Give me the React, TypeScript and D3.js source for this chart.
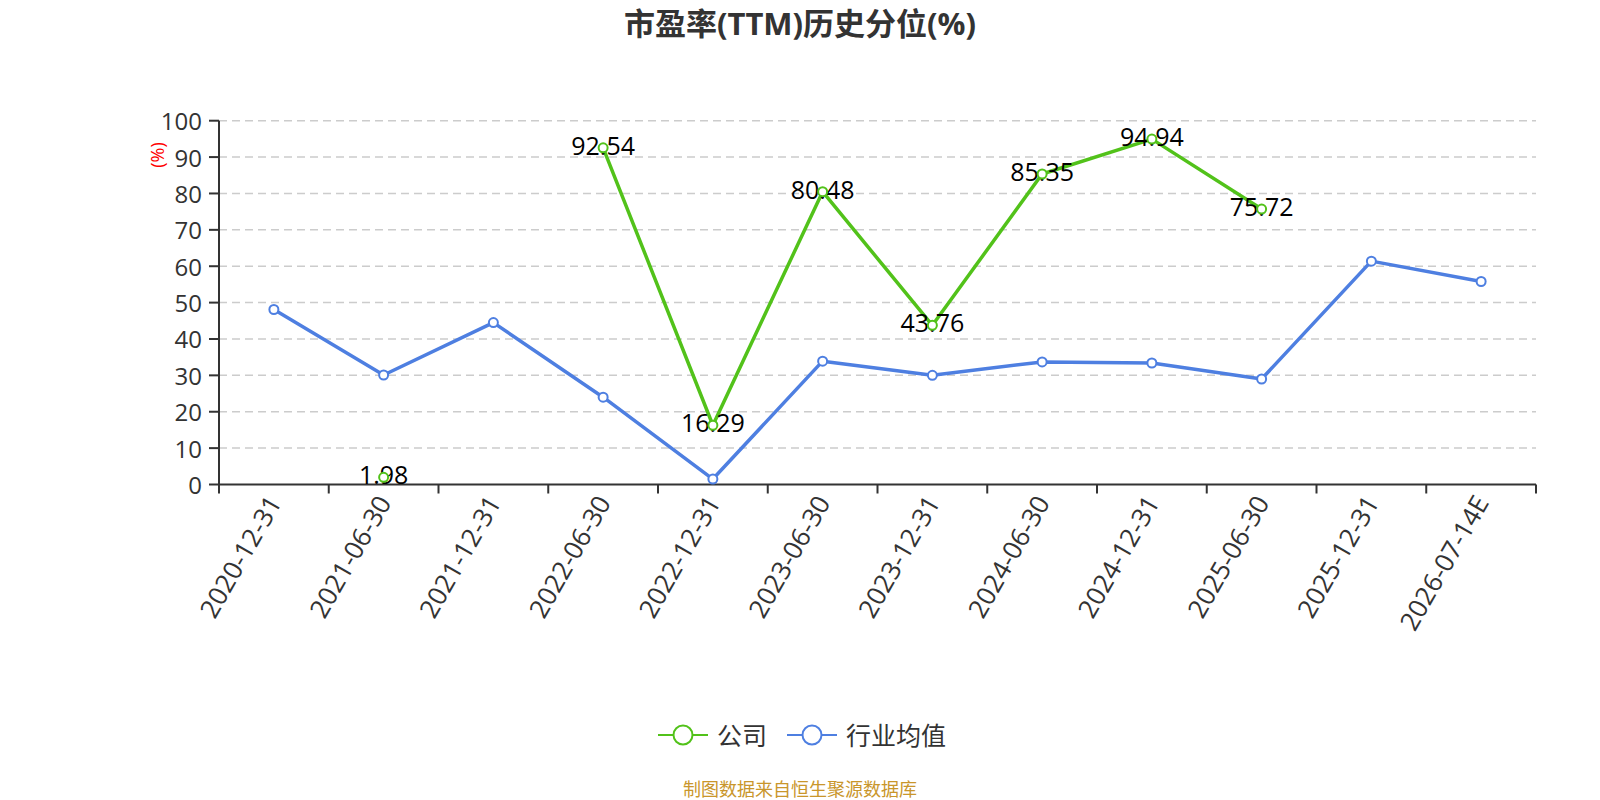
import React from "react";
import * as d3 from "d3";

const categories = [
  "2020-12-31", "2021-06-30", "2021-12-31", "2022-06-30", "2022-12-31", "2023-06-30",
  "2023-12-31", "2024-06-30", "2024-12-31", "2025-06-30", "2025-12-31", "2026-07-14E",
];
const companyValues: (number | null)[] = [null, 1.98, null, 92.54, 16.29, 80.48, 43.76, 85.35, 94.94, 75.72, null, null];
const industryValues: (number | null)[] = [48.1, 30.1, 44.5, 24.0, 1.5, 33.9, 30.0, 33.7, 33.4, 29.0, 61.4, 55.8];
const yTicks = [0, 10, 20, 30, 40, 50, 60, 70, 80, 90, 100];
const seriesNames = ["公司", "行业均值"];
const titleText = "市盈率(TTM)历史分位(%)";
const footerText = "制图数据来自恒生聚源数据库";

const W = 1600;
const H = 800;
const left = 219;
const right = 1536;
const top = 120.7;
const bottom = 484.5;
const GREEN = "#52c21a";
const BLUE = "#4e7fe1";
const FONT = "'Open Sans', 'Noto Sans CJK SC', sans-serif";

export default function App() {
  const x = d3.scaleBand<string>().domain(categories).range([left, right]).padding(0);
  const y = d3.scaleLinear().domain([0, 100]).range([bottom, top]);
  const cx = (c: string) => (x(c) as number) + x.bandwidth() / 2;

  const line = d3
    .line<number | null>()
    .defined((d) => d != null)
    .x((_, i) => cx(categories[i]))
    .y((d) => y(d as number));

  const boundaries = categories.map((c) => x(c) as number).concat([right]);

  const series = [
    { name: seriesNames[0], values: companyValues, color: GREEN },
    { name: seriesNames[1], values: industryValues, color: BLUE },
  ];

  return (
    <div style={{ position: "fixed", left: 0, top: 0 }}>
      <svg width={W} height={H} style={{ display: "block", background: "#fff" }} fontFamily={FONT}>
        <text x={800} y={23} textAnchor="middle" dominantBaseline="central" fontSize={31} fontWeight="bold" fill="#333">
          {titleText}
        </text>

        {/* grid lines */}
        {yTicks.filter((t) => t > 0).map((t) => (
          <line key={"g" + t} x1={left} x2={right} y1={y(t)} y2={y(t)} stroke="#ccc" strokeWidth={1.5} strokeDasharray="8,5" />
        ))}

        {/* y axis */}
        <line x1={left} x2={left} y1={top} y2={bottom} stroke="#333" strokeWidth={2} />
        {yTicks.map((t) => (
          <g key={"y" + t}>
            <line x1={left - 10} x2={left} y1={y(t)} y2={y(t)} stroke="#333" strokeWidth={2} />
            <text x={left - 17} y={y(t)} textAnchor="end" dominantBaseline="central" fontSize={24} fill="#333">
              {t}
            </text>
          </g>
        ))}
        <text transform={`translate(157,155) rotate(-90)`} textAnchor="middle" dominantBaseline="central" fontSize={18} fill="red">
          (%)
        </text>

        {/* x axis */}
        <line x1={left} x2={right} y1={bottom} y2={bottom} stroke="#333" strokeWidth={2} />
        {boundaries.map((b, i) => (
          <line key={"xt" + i} x1={b} x2={b} y1={bottom} y2={bottom + 9} stroke="#333" strokeWidth={2} />
        ))}
        {categories.map((c) => (
          <text key={"xl" + c} transform={`translate(${cx(c)},${bottom + 13}) rotate(-60)`} textAnchor="end" dominantBaseline="central" fontSize={26} fill="#333">
            {c}
          </text>
        ))}

        {/* series lines */}
        {series.map((s) => (
          <path key={"p" + s.name} d={line(s.values) || ""} fill="none" stroke={s.color} strokeWidth={3.5} strokeLinejoin="round" />
        ))}

        {/* labels */}
        {companyValues.map((v, i) =>
          v == null ? null : (
            <text key={"lb" + i} x={cx(categories[i])} y={y(v) - 3} textAnchor="middle" dominantBaseline="central" fontSize={25} fill="#000">
              {v.toFixed(2)}
            </text>
          )
        )}

        {/* points */}
        {series.map((s) =>
          s.values.map((v, i) =>
            v == null ? null : (
              <circle key={s.name + i} cx={cx(categories[i])} cy={y(v)} r={4.5} fill="#fff" stroke={s.color} strokeWidth={2} />
            )
          )
        )}

        {/* legend */}
        {[
          { name: seriesNames[0], color: GREEN, x0: 658, tx: 717 },
          { name: seriesNames[1], color: BLUE, x0: 787, tx: 846 },
        ].map((l) => (
          <g key={"lg" + l.name}>
            <line x1={l.x0} x2={l.x0 + 50} y1={735} y2={735} stroke={l.color} strokeWidth={2} />
            <circle cx={l.x0 + 25} cy={735} r={9.5} fill="#fff" stroke={l.color} strokeWidth={2} />
            <text x={l.tx} y={735} dominantBaseline="central" fontSize={25} fill="#333">
              {l.name}
            </text>
          </g>
        ))}

        <text x={800} y={789} textAnchor="middle" dominantBaseline="central" fontSize={18} fill="#c9962b">
          {footerText}
        </text>
      </svg>
    </div>
  );
}
